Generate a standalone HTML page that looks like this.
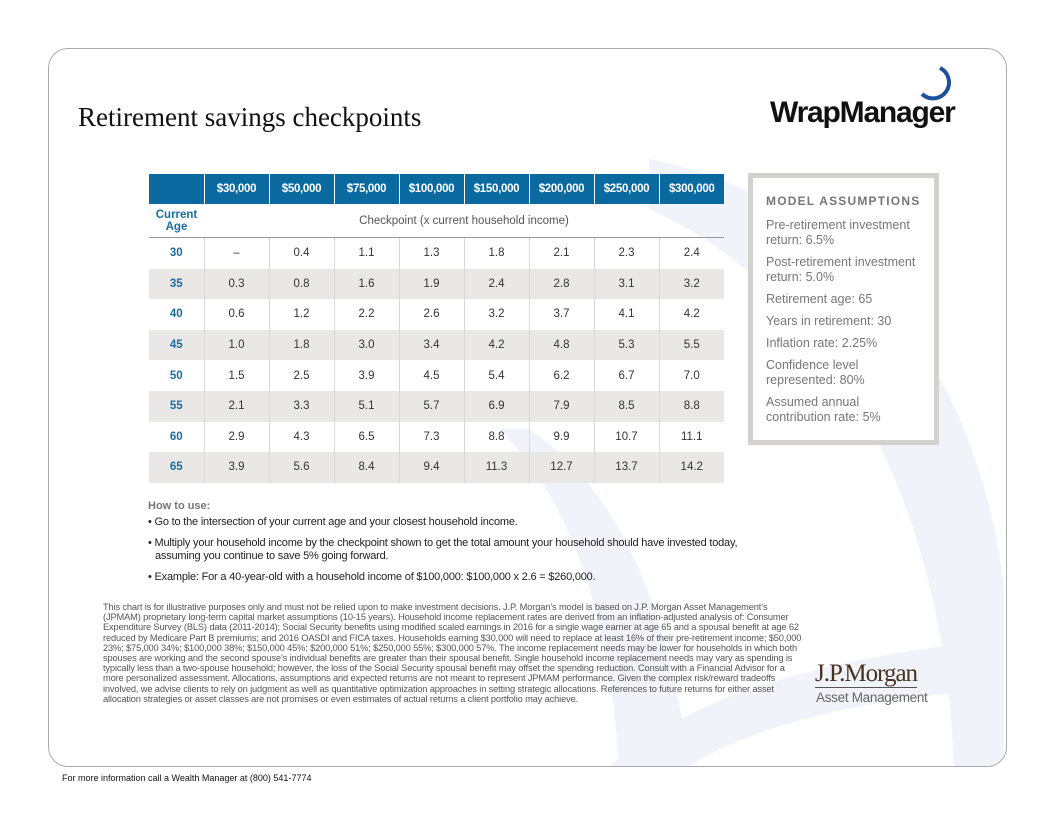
<!DOCTYPE html>
<html><head><meta charset="utf-8"><style>
body{margin:0;width:1056px;height:816px;background:#fff;font-family:"Liberation Sans",sans-serif;position:relative;overflow:hidden}
.frame{position:absolute;left:48px;top:48px;width:957px;height:717px;border:1px solid #aaa;border-radius:20px;overflow:hidden}
.abs{position:absolute}
table{border-collapse:collapse;table-layout:fixed;position:absolute;left:149px;top:174px;width:575px;font-size:11.5px;color:#333}
td,th{text-align:center;padding:0;border-left:1px solid #d8d8d8}
th{background:#0a6aa0;color:#fff;font-size:11.5px;height:30px;border-left:1px solid #fff;letter-spacing:-0.3px}
tr.r td{height:30.6px}
tr.g td{background:#e9e8e6}
td.a{color:#1a6da3;font-weight:bold;border-left:none}
</style></head><body>
<div class="frame">
<svg class="abs" style="left:0;top:0" width="957" height="717">
<path d="M600 110 C800 150 930 320 955 540 L955 717 L905 717 C895 450 780 240 600 160 Z" fill="#f0f3f9"/>
<path d="M450 380 C520 450 560 560 570 717 L640 717 C620 560 570 440 480 380 Z" fill="#f0f3f9"/>
<path d="M560 717 C640 650 760 610 955 590 L955 640 C800 650 700 680 640 717 Z" fill="#f0f3f9"/>
</svg>
</div>
<div class="abs" style="left:78px;top:102px;font-family:'Liberation Serif',serif;font-size:27px;color:#111">Retirement savings checkpoints</div>
<div class="abs" style="left:770px;top:96px;font-family:'Liberation Sans',sans-serif;font-weight:bold;font-size:30px;color:#111;letter-spacing:-1.2px">WrapManager</div>
<svg class="abs" style="left:914px;top:64px" width="52" height="44"><path d="M26 4 A16 16 0 1 1 8 30" fill="none" stroke="#1d4f9c" stroke-width="4"/></svg>
<table>
<colgroup><col style="width:55px"><col span="8" style="width:65px"></colgroup>
<tr><th style="border-left:none"></th><th>$30,000</th><th>$50,000</th><th>$75,000</th><th>$100,000</th><th>$150,000</th><th>$200,000</th><th>$250,000</th><th>$300,000</th></tr>
<tr><td class="a" style="height:33px;border-bottom:1px solid #999;line-height:12px">Current<br>Age</td><td colspan="8" style="border-bottom:1px solid #999;color:#555;border-left:none">Checkpoint (x current household income)</td></tr>
<tr class="r"><td class="a">30</td><td>–</td><td>0.4</td><td>1.1</td><td>1.3</td><td>1.8</td><td>2.1</td><td>2.3</td><td>2.4</td></tr>
<tr class="r g"><td class="a">35</td><td>0.3</td><td>0.8</td><td>1.6</td><td>1.9</td><td>2.4</td><td>2.8</td><td>3.1</td><td>3.2</td></tr>
<tr class="r"><td class="a">40</td><td>0.6</td><td>1.2</td><td>2.2</td><td>2.6</td><td>3.2</td><td>3.7</td><td>4.1</td><td>4.2</td></tr>
<tr class="r g"><td class="a">45</td><td>1.0</td><td>1.8</td><td>3.0</td><td>3.4</td><td>4.2</td><td>4.8</td><td>5.3</td><td>5.5</td></tr>
<tr class="r"><td class="a">50</td><td>1.5</td><td>2.5</td><td>3.9</td><td>4.5</td><td>5.4</td><td>6.2</td><td>6.7</td><td>7.0</td></tr>
<tr class="r g"><td class="a">55</td><td>2.1</td><td>3.3</td><td>5.1</td><td>5.7</td><td>6.9</td><td>7.9</td><td>8.5</td><td>8.8</td></tr>
<tr class="r"><td class="a">60</td><td>2.9</td><td>4.3</td><td>6.5</td><td>7.3</td><td>8.8</td><td>9.9</td><td>10.7</td><td>11.1</td></tr>
<tr class="r g"><td class="a">65</td><td>3.9</td><td>5.6</td><td>8.4</td><td>9.4</td><td>11.3</td><td>12.7</td><td>13.7</td><td>14.2</td></tr>
</table>
<div class="abs" style="left:748px;top:173px;width:181px;height:262px;border:5px solid #d3d2ce;background:#fff;color:#777;font-size:12.5px;line-height:15px">
<div style="margin:16px 0 0 13px;font-weight:bold;letter-spacing:1.2px;font-size:12px">MODEL ASSUMPTIONS</div>
<div style="margin:9px 16px 0 13px">Pre-retirement investment return: 6.5%</div>
<div style="margin:7px 16px 0 13px">Post-retirement investment return: 5.0%</div>
<div style="margin:7px 16px 0 13px">Retirement age: 65</div>
<div style="margin:7px 16px 0 13px">Years in retirement: 30</div>
<div style="margin:7px 16px 0 13px">Inflation rate: 2.25%</div>
<div style="margin:7px 40px 0 13px">Confidence level represented: 80%</div>
<div style="margin:7px 40px 0 13px">Assumed annual contribution rate: 5%</div>
</div>
<div class="abs" style="left:148px;top:500px;font-size:11px;color:#777;font-weight:bold">How to use:</div>
<div class="abs" style="left:148px;top:516px;width:590px;font-size:11px;color:#222;line-height:13.5px;letter-spacing:-0.2px">
<div>• Go to the intersection of your current age and your closest household income.</div>
<div style="margin-top:7px;padding-left:7px;text-indent:-7px">• Multiply your household income by the checkpoint shown to get the total amount your household should have invested today, assuming you continue to save 5% going forward.</div>
<div style="margin-top:7px">• Example: For a 40-year-old with a household income of $100,000: $100,000 x 2.6 = $260,000.</div>
</div>
<div class="abs" style="left:103px;top:602px;width:700px;font-size:9.3px;line-height:10.2px;color:#555;letter-spacing:-0.15px">This chart is for illustrative purposes only and must not be relied upon to make investment decisions. J.P. Morgan’s model is based on J.P. Morgan Asset Management’s (JPMAM) proprietary long-term capital market assumptions (10-15 years). Household income replacement rates are derived from an inflation-adjusted analysis of: Consumer Expenditure Survey (BLS) data (2011-2014); Social Security benefits using modified scaled earnings in 2016 for a single wage earner at age 65 and a spousal benefit at age 62 reduced by Medicare Part B premiums; and 2016 OASDI and FICA taxes. Households earning $30,000 will need to replace at least 16% of their pre-retirement income; $50,000 23%; $75,000 34%; $100,000 38%; $150,000 45%; $200,000 51%; $250,000 55%; $300,000 57%. The income replacement needs may be lower for households in which both spouses are working and the second spouse’s individual benefits are greater than their spousal benefit. Single household income replacement needs may vary as spending is typically less than a two-spouse household; however, the loss of the Social Security spousal benefit may offset the spending reduction. Consult with a Financial Advisor for a more personalized assessment. Allocations, assumptions and expected returns are not meant to represent JPMAM performance. Given the complex risk/reward tradeoffs involved, we advise clients to rely on judgment as well as quantitative optimization approaches in setting strategic allocations. References to future returns for either asset allocation strategies or asset classes are not promises or even estimates of actual returns a client portfolio may achieve.</div>
<div class="abs" style="left:815px;top:660px;font-family:'Liberation Serif',serif;font-size:25px;color:#4a3220;letter-spacing:-1px;border-bottom:1px solid #555;line-height:27px">J.P.Morgan</div>
<div class="abs" style="left:816px;top:690px;font-size:13.5px;color:#666;letter-spacing:-0.3px">Asset Management</div>
<div class="abs" style="left:62px;top:773px;font-size:9px;color:#111">For more information call a Wealth Manager at (800) 541-7774</div>
</body></html>
